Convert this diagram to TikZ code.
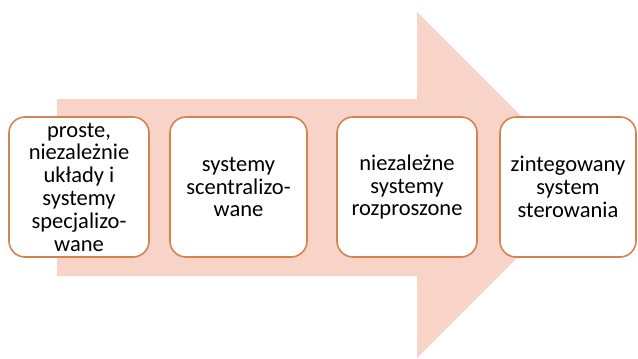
\documentclass[tikz,border=0pt]{standalone}
\usepackage{fontspec}
\setmainfont{Carlito}
\definecolor{arrowpink}{HTML}{F8D3C8}
\definecolor{boxorange}{HTML}{D4834E}
\begin{document}
\begin{tikzpicture}[x=1pt,y=-1pt,
  stage/.style={draw=boxorange,line width=1.6pt,fill=white,rounded corners=16pt,
    minimum width=140pt,minimum height=140pt,align=center,inner sep=0pt,
    font=\fontsize{22.5}{22.8}\selectfont},
  bigarrow/.style={fill=arrowpink,draw=none}]
\useasboundingbox (0,0) rectangle (638,359);
\fill[bigarrow] (57,99) -- (417,99) -- (417,12) -- (590,185) -- (417,358) -- (417,276) -- (57,276) -- cycle;
\node[stage] (s1) at (79,187) {proste,\\niezależnie\\układy i\\systemy\\specjalizo-\\wane};
\node[stage,minimum width=137pt] (s2) at (238.5,187) {systemy\\scentralizo-\\wane};
\node[stage] (s3) at (407,187) {niezależne\\systemy\\rozproszone};
\node[stage,minimum width=136pt] (s4) at (568,187) {zintegowany\\system\\sterowania};
\end{tikzpicture}
\end{document}
